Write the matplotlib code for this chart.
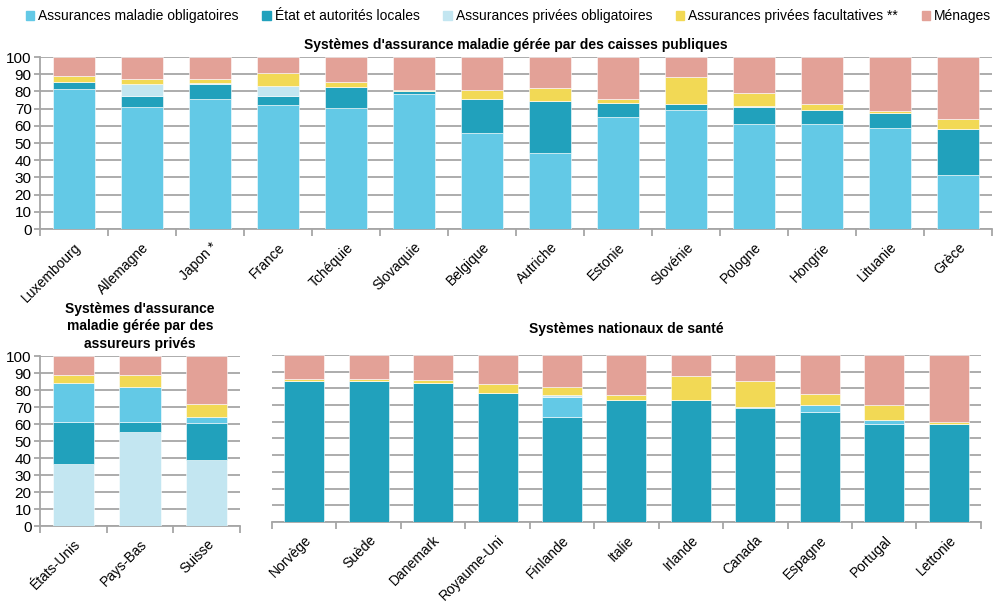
import numpy as np
import matplotlib
matplotlib.use("Agg")
import matplotlib.pyplot as plt
from matplotlib.patches import Patch

plt.rcParams['font.family'] = ['Liberation Sans', 'DejaVu Sans']
plt.rcParams['font.size'] = 9.5

# colours
c_ob = '#63C9E6'    # assurances maladie obligatoires
c_etat = '#21A1BC'  # état et autorités locales
c_pob = '#C3E6F1'   # assurances privées obligatoires
c_fac = '#F2D955'   # assurances privées facultatives
c_men = '#E3A197'   # ménages
grid_c = '#A6A6A6'

legend_labels = ['Assurances maladie obligatoires', 'État et autorités locales',
                 'Assurances privées obligatoires', 'Assurances privées facultatives **',
                 'Ménages']

# --- top panel: caisses publiques ---
top_countries = ['Luxembourg', 'Allemagne', 'Japon *', 'France', 'Tchéquie', 'Slovaquie',
                 'Belgique', 'Autriche', 'Estonie', 'Slovénie', 'Pologne', 'Hongrie',
                 'Lituanie', 'Grèce']
top_ob = [81.2, 71.0, 75.6, 72.0, 70.2, 78.3, 55.9, 44.1, 65.0, 69.2, 60.9, 60.9, 58.6, 31.5]
top_etat = [4.1, 6.2, 8.7, 5.2, 12.2, 1.8, 19.5, 30.4, 8.5, 3.3, 10.1, 8.2, 8.7, 26.7]
top_pob = [0.0, 6.9, 0.4, 6.2, 0.0, 0.0, 0.0, 0.0, 0.0, 0.0, 0.8, 0.0, 0.0, 0.0]
top_fac = [3.5, 2.9, 2.5, 7.3, 2.9, 0.9, 5.6, 7.3, 1.9, 15.7, 7.1, 3.6, 1.2, 5.6]
top_men = [11.2, 13.0, 12.8, 9.3, 14.7, 19.0, 19.0, 18.2, 24.6, 11.8, 21.1, 27.3, 31.5, 36.2]

# --- bottom left: assureurs privés ---
bl_countries = ['États-Unis', 'Pays-Bas', 'Suisse']
bl_pob = [36.3, 55.5, 39.0]
bl_etat = [25.1, 5.9, 21.8]
bl_ob = [22.9, 20.6, 3.5]
bl_fac = [4.5, 7.0, 7.5]
bl_men = [11.2, 11.0, 28.2]

# --- bottom right: systèmes nationaux ---
br_countries = ['Norvège', 'Suède', 'Danemark', 'Royaume-Uni', 'Finlande', 'Italie',
                'Irlande', 'Canada', 'Espagne', 'Portugal', 'Lettonie']
br_etat = [84.4, 84.4, 83.4, 77.0, 62.7, 72.9, 72.9, 68.3, 65.7, 58.9, 58.9]
br_ob = [0.0, 0.0, 0.0, 0.0, 12.0, 0.0, 0.0, 0.8, 4.6, 2.0, 0.0]
br_pob = [0.0, 0.0, 0.0, 0.0, 1.2, 0.0, 0.0, 0.0, 0.0, 0.0, 0.0]
br_fac = [1.0, 1.0, 1.8, 5.6, 4.7, 3.0, 14.3, 15.3, 6.5, 9.4, 1.2]
br_men = [14.6, 14.6, 14.8, 17.4, 19.4, 24.1, 12.8, 15.6, 23.2, 29.7, 39.9]


def stack(ax, names, layers, show_y=True):
    x = np.arange(len(names))
    bottom = np.zeros(len(names))
    for vals, col in layers:
        ax.bar(x, vals, 0.62, bottom=bottom, color=col, edgecolor='white', linewidth=0.4, zorder=3)
        bottom += np.array(vals)
    ax.set_xlim(-0.5, len(names) - 0.5)
    ax.set_ylim(0, 100)
    ax.set_yticks(np.arange(0, 101, 10))
    ax.grid(axis='y', color=grid_c, linewidth=1.3, zorder=0)
    ax.set_axisbelow(True)
    for s in ['top', 'right']:
        ax.spines[s].set_visible(False)
    ax.spines['left'].set_color(grid_c)
    ax.spines['bottom'].set_color(grid_c)
    ax.spines['left'].set_linewidth(1.3)
    ax.spines['bottom'].set_linewidth(1.3)
    if not show_y:
        ax.spines['left'].set_visible(False)
        ax.tick_params(axis='y', length=0, labelleft=False)
    else:
        ax.tick_params(axis='y', length=4, color=grid_c, width=1.3, pad=2, labelsize=11)
    # tick marks at category boundaries, labels at centres
    ax.set_xticks(np.arange(len(names) + 1) - 0.5)
    ax.set_xticklabels([])
    ax.tick_params(axis='x', length=5, color=grid_c, width=1.3)
    ax.set_xticks(x, minor=True)
    ax.set_xticklabels(names, minor=True, rotation=45, ha='right', va='top',
                       rotation_mode='anchor', fontsize=10)
    ax.tick_params(axis='x', which='minor', length=0, pad=8)


fig = plt.figure(figsize=(9.97, 6.02), dpi=100)

ax1 = fig.add_axes([0.0401, 0.6196, 0.955, 0.2857])
stack(ax1, top_countries, [(top_ob, c_ob), (top_etat, c_etat), (top_pob, c_pob),
                           (top_fac, c_fac), (top_men, c_men)])
ax1.set_title("Systèmes d'assurance maladie gérée par des caisses publiques",
              fontsize=10, fontweight='bold', pad=6)

ax2 = fig.add_axes([0.0401, 0.1262, 0.2006, 0.2824])
stack(ax2, bl_countries, [(bl_pob, c_pob), (bl_etat, c_etat), (bl_ob, c_ob),
                          (bl_fac, c_fac), (bl_men, c_men)])
ax2.set_title("Systèmes d'assurance\nmaladie gérée par des\nassureurs privés",
              fontsize=10, fontweight='bold', pad=6, linespacing=1.3)

ax3 = fig.add_axes([0.2728, 0.1329, 0.7111, 0.2774])
stack(ax3, br_countries, [(br_etat, c_etat), (br_ob, c_ob), (br_pob, c_pob),
                          (br_fac, c_fac), (br_men, c_men)], show_y=False)
ax3.set_title("Systèmes nationaux de santé", fontsize=10, fontweight='bold', pad=16)

handles = [Patch(color=c) for c in [c_ob, c_etat, c_pob, c_fac, c_men]]
fig.legend(handles, legend_labels, loc='upper center', bbox_to_anchor=(0.51, 1.005), ncol=5,
           frameon=False, fontsize=10, handlelength=0.6, handleheight=0.6,
           handletextpad=0.3, columnspacing=1.7)

fig.savefig('out.png', dpi=100)
